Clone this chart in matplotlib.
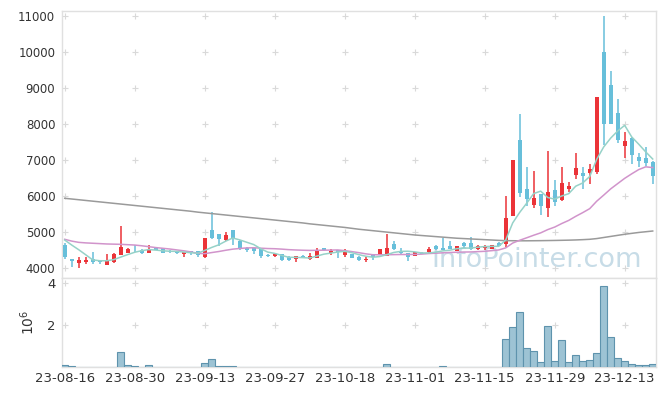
import matplotlib
matplotlib.use("Agg")
import matplotlib.pyplot as plt
import numpy as np

dates = ["23-08-16", "23-08-17", "23-08-18", "23-08-21", "23-08-22", "23-08-23", "23-08-24", "23-08-25",
         "23-08-28", "23-08-29", "23-08-30", "23-08-31", "23-09-01",
         "23-09-04", "23-09-05", "23-09-06", "23-09-07", "23-09-08",
         "23-09-11", "23-09-12", "23-09-13", "23-09-14", "23-09-15",
         "23-09-18", "23-09-19", "23-09-20", "23-09-21", "23-09-22",
         "23-09-25", "23-09-26", "23-09-27",
         "23-10-04", "23-10-05", "23-10-06", "23-10-10", "23-10-11", "23-10-12", "23-10-13",
         "23-10-16", "23-10-17", "23-10-18", "23-10-19", "23-10-20",
         "23-10-23", "23-10-24", "23-10-25", "23-10-26", "23-10-27", "23-10-30", "23-10-31",
         "23-11-01", "23-11-02", "23-11-03", "23-11-06", "23-11-07", "23-11-08", "23-11-09", "23-11-10",
         "23-11-13", "23-11-14", "23-11-15", "23-11-16", "23-11-17",
         "23-11-20", "23-11-21", "23-11-22", "23-11-23", "23-11-24",
         "23-11-27", "23-11-28", "23-11-29", "23-11-30", "23-12-01",
         "23-12-04", "23-12-05", "23-12-06", "23-12-07", "23-12-08",
         "23-12-11", "23-12-12", "23-12-13", "23-12-14", "23-12-15", "23-12-18", "23-12-19"]

opens = [4630, 4240, 4140, 4170, 4240, 4210, 4080, 4160, 4350, 4400,
         4500, 4490, 4420, 4560, 4540, 4470, 4440, 4370, 4460, 4460,
         4290, 5050, 4930, 4770, 5050, 4750, 4560, 4540, 4540, 4360,
         4330, 4380, 4300, 4240, 4330, 4230, 4280, 4540, 4400, 4490,
         4350, 4380, 4310, 4220, 4350, 4350, 4330, 4660, 4470, 4400,
         4330, 4420, 4430, 4600, 4560, 4600, 4470, 4680, 4690, 4510,
         4540, 4520, 4690, 4660, 5450, 7550, 6190, 5740, 6050, 5650,
         6160, 5880, 6190, 6580, 6630, 6640, 6650, 9990, 9080, 8290,
         7380, 7610, 7090, 7060, 6950]
highs = [4680, 4240, 4300, 4290, 4440, 4220, 4370, 4400, 5160, 4540,
         4620, 4530, 4630, 4580, 4560, 4490, 4460, 4440, 4470, 4470,
         4830, 5540, 4940, 4990, 5060, 4760, 4570, 4560, 4550, 4380,
         4400, 4390, 4320, 4330, 4340, 4420, 4540, 4550, 4510, 4500,
         4510, 4390, 4320, 4300, 4370, 4530, 4930, 4740, 4560, 4410,
         4440, 4430, 4580, 4620, 4830, 4730, 4610, 4720, 4860, 4640,
         4640, 4640, 4720, 5990, 7000, 8270, 6800, 6690, 6060, 7240,
         6440, 6810, 6380, 7180, 6790, 6880, 8740, 11000, 9480, 8680,
         7780, 7620, 7200, 7360, 6960]
lows = [4250, 4010, 3990, 4100, 4100, 4100, 4080, 4140, 4350, 4400,
        4440, 4390, 4410, 4480, 4400, 4400, 4380, 4300, 4360, 4310,
        4280, 4800, 4610, 4730, 4630, 4490, 4430, 4370, 4260, 4300,
        4300, 4180, 4200, 4170, 4270, 4220, 4270, 4470, 4340, 4260,
        4290, 4270, 4180, 4170, 4210, 4340, 4330, 4480, 4340, 4190,
        4320, 4380, 4420, 4490, 4480, 4510, 4460, 4560, 4500, 4500,
        4500, 4510, 4600, 4580, 5440, 5970, 5720, 5650, 5470, 5420,
        5720, 5850, 6100, 6460, 6190, 6320, 6600, 7410, 7990, 7470,
        7040, 6880, 6790, 6830, 6330]
closes = [4290, 4200, 4210, 4220, 4170, 4170, 4195, 4370, 4570, 4520,
          4490, 4420, 4520, 4500, 4420, 4430, 4400, 4430, 4400, 4350,
          4820, 4820, 4790, 4910, 4790, 4560, 4490, 4470, 4330, 4320,
          4380, 4210, 4210, 4320, 4280, 4330, 4470, 4480, 4470, 4430,
          4430, 4280, 4210, 4250, 4290, 4520, 4540, 4520, 4400, 4310,
          4430, 4390, 4520, 4510, 4490, 4520, 4600, 4610, 4510, 4610,
          4610, 4630, 4610, 5390, 6990, 6070, 5910, 5950, 5720, 6110,
          5840, 6350, 6270, 6760, 6560, 6740, 8740, 7990, 7990, 7550,
          7520, 7130, 6980, 6920, 6560]
volumes = [100000, 50000, 15000, 12000, 18000, 10000, 14000, 20000, 730000, 100000,
           50000, 20000, 100000, 15000, 12000, 10000, 14000, 12000, 16000, 20000,
           190000, 380000, 50000, 50000, 50000, 15000, 10000, 12000, 14000, 10000,
           12000, 15000, 10000, 12000, 10000, 14000, 16000, 12000, 10000, 12000,
           15000, 10000, 12000, 14000, 16000, 20000, 140000, 20000, 15000, 12000,
           14000, 12000, 16000, 15000, 50000, 18000, 20000, 18000, 20000, 15000,
           18000, 20000, 25000, 1330000, 1900000, 2620000, 900000, 780000, 250000, 1950000,
           300000, 1290000, 250000, 570000, 300000, 350000, 680000, 3870000, 1440000, 440000,
           300000, 160000, 100000, 100000, 160000]
ma5 = [4770, 4630, 4500, 4360, 4218, 4194, 4193, 4225, 4295, 4365,
       4429, 4474, 4504, 4490, 4470, 4458, 4454, 4436, 4416, 4402,
       4480, 4564, 4636, 4738, 4826, 4774, 4708, 4644, 4528, 4434,
       4398, 4342, 4290, 4288, 4280, 4270, 4322, 4376, 4406, 4436,
       4456, 4418, 4364, 4320, 4292, 4310, 4362, 4424, 4454, 4458,
       4440, 4410, 4410, 4432, 4468, 4486, 4528, 4546, 4546, 4570,
       4588, 4594, 4594, 4770, 5246, 5538, 5794, 6062, 6128, 5952,
       5906, 5994, 6058, 6266, 6356, 6536, 7014, 7358, 7604, 7802,
       7958, 7636, 7434, 7220, 7022]
ma20 = [4790, 4740, 4705, 4690, 4680, 4670, 4660, 4655, 4650, 4640,
        4630, 4610, 4585, 4560, 4540, 4520, 4495, 4470, 4440, 4400,
        4390, 4421, 4450, 4485, 4516, 4535, 4550, 4555, 4543, 4533,
        4528, 4517, 4502, 4493, 4486, 4481, 4484, 4487, 4490, 4494,
        4475, 4448, 4419, 4386, 4361, 4359, 4361, 4364, 4367, 4367,
        4369, 4378, 4394, 4403, 4414, 4423, 4430, 4436, 4438, 4447,
        4456, 4474, 4494, 4551, 4686, 4763, 4832, 4903, 4969, 5059,
        5130, 5228, 5315, 5428, 5531, 5642, 5849, 6018, 6192, 6339,
        6485, 6610, 6728, 6805, 6783]
ma120 = [5930, 5910, 5890, 5870, 5850, 5830, 5810, 5790, 5770, 5750,
         5730, 5710, 5690, 5670, 5650, 5630, 5610, 5590, 5570, 5545,
         5525, 5505, 5485, 5465, 5445, 5425, 5405, 5385, 5365, 5345,
         5325, 5305, 5285, 5265, 5245, 5220, 5200, 5180, 5160, 5140,
         5120, 5095, 5070, 5050, 5030, 5010, 4990, 4970, 4950, 4930,
         4910, 4895, 4880, 4865, 4850, 4835, 4820, 4810, 4800, 4790,
         4780, 4770, 4760, 4752, 4750, 4748, 4748, 4750, 4752, 4755,
         4758, 4762, 4766, 4772, 4780, 4790, 4810, 4840, 4870, 4900,
         4930, 4955, 4980, 5000, 5020]
price_ticks = [4000, 5000, 6000, 7000, 8000, 9000, 10000, 11000]
vol_ticks = [2, 4]

RED = "#eb3338"
BLUE = "#67bfda"
GRID = "#d9d9d9"
SPINE = "#e0e0e0"
TXT = "#333333"

W, H = 665, 396
fig = plt.figure(figsize=(W / 100, H / 100), dpi=100)
L, R = 61.5, 656.0
ax = fig.add_axes([L / W, 1 - 278 / H, (R - L) / W, (278 - 10.7) / H])
axv = fig.add_axes([L / W, 1 - 367.3 / H, (R - L) / W, (367.3 - 278) / H], sharex=ax)

o = np.array(opens, float)
c = np.array(closes, float)
hi = np.array(highs, float)
lo = np.array(lows, float)
x = np.arange(len(c))
cols = np.where(c >= o, RED, BLUE)

ax.vlines(x, lo, hi, colors=cols, linewidth=1.1, zorder=3)
ax.bar(x, np.maximum(np.abs(c - o), 14), bottom=np.minimum(o, c), width=0.62,
       color=cols, linewidth=0, zorder=4)
ax.plot(x, ma120, color="#9a9a9a", linewidth=1.1, zorder=5)
ax.plot(x, ma20, color="#d194cb", linewidth=1.1, zorder=5)
ax.plot(x, ma5, color="#96d2c8", linewidth=1.1, zorder=5)

ax.text((482 - 51 - L) / (R - L), (278 - 267) / (278 - 10.7), "InfoPointer.com",
        transform=ax.transAxes, fontsize=19.5, color="#c7dce7", ha="left",
        va="baseline", zorder=1, family="DejaVu Sans")

ax.set_xlim(-0.46, 84.47)
ax.set_ylim(3714, 11145)
ax.set_yticks(price_ticks)
ax.set_yticklabels([str(t) for t in price_ticks])

v = np.array(volumes, float) / 1e6
axv.bar(x, v, width=1.0, color="#9dc3d4", edgecolor="#5e93ad", linewidth=0.8, zorder=3)
axv.set_ylim(0, 4.25)
axv.set_yticks(vol_ticks)
axv.set_yticklabels([str(t) for t in vol_ticks])
axv.set_ylabel(r"$10^6$", fontsize=10, color=TXT)
axv.yaxis.set_label_coords((37 - L) / (R - L), 0.5)

xt = list(range(0, len(dates), 10))
axv.set_xticks(xt)
axv.set_xticklabels([dates[i] for i in xt])

for a, yt in ((ax, price_ticks), (axv, vol_ticks)):
    for s in a.spines.values():
        s.set_color(SPINE)
        s.set_linewidth(1.0)
    a.tick_params(length=0, colors=TXT, labelsize=9.5)
    a.tick_params(axis="y", pad=4.5)
    gx, gy = np.meshgrid(xt, yt)
    a.plot(gx.ravel(), gy.ravel(), linestyle="none", marker="+", markersize=5,
           markeredgewidth=0.8, color=GRID, zorder=2)
ax.tick_params(axis="x", labelbottom=False)
ax.tick_params(axis="y", labelsize=8.5)
axv.tick_params(axis="x", pad=3.5)

fig.savefig("out.png", dpi=100)
